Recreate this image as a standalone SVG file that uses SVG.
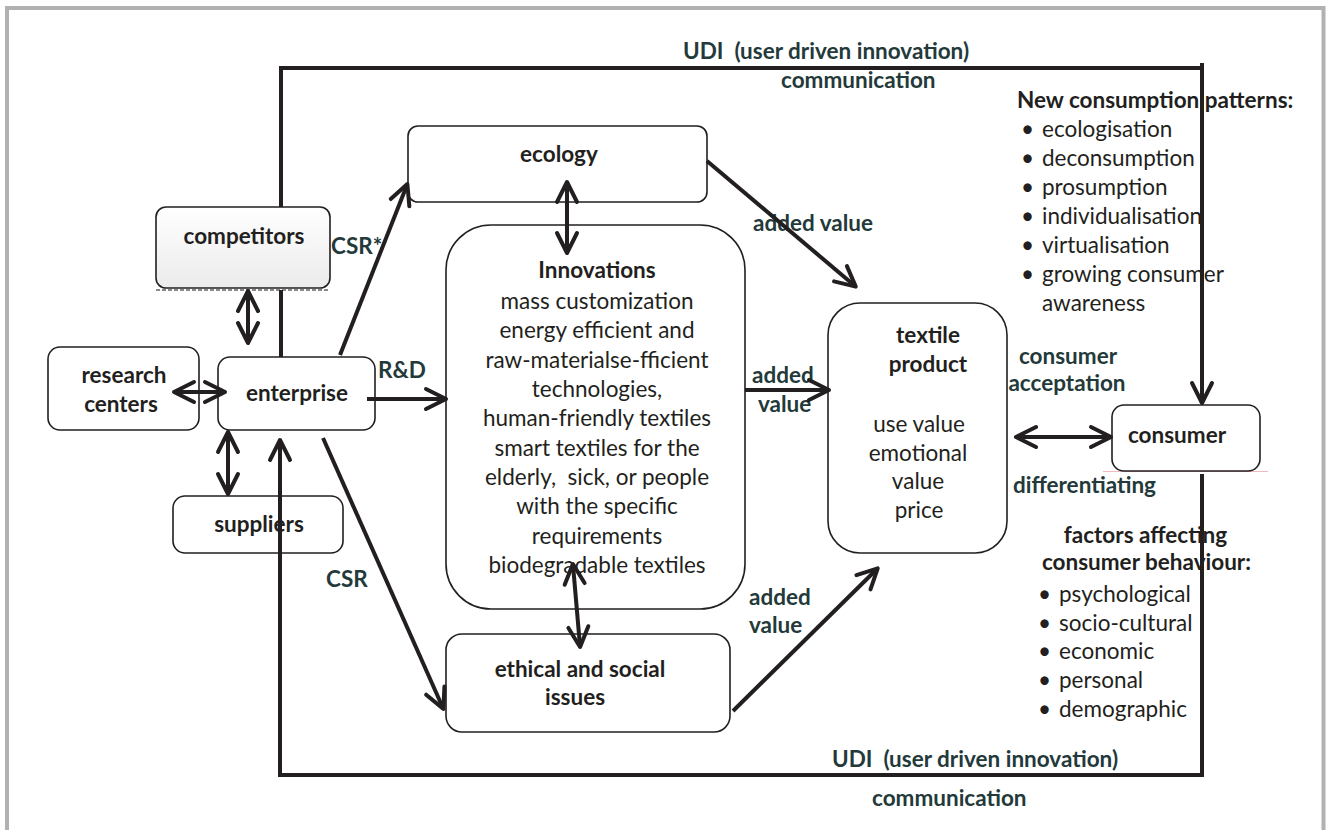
<svg xmlns="http://www.w3.org/2000/svg" width="1326" height="830" viewBox="0 0 1326 830">
<style>
.node{fill:#fff;stroke:#231f20;stroke-width:1.6}
.nt{font-family:Lato,"Liberation Sans",sans-serif;font-weight:bold;font-size:22.5px;fill:#231f20;text-anchor:middle}
.rt{font-family:Lato,"Liberation Sans",sans-serif;font-size:22.5px;fill:#231f20;text-anchor:middle}
.lt{font-family:Lato,"Liberation Sans",sans-serif;font-size:22.5px;fill:#231f20}
.lb{font-family:Lato,"Liberation Sans",sans-serif;font-weight:bold;font-size:22.5px;fill:#23393a}
.lbb{font-family:Lato,"Liberation Sans",sans-serif;font-weight:bold;font-size:22.5px;fill:#231f20}
.c{fill:none;stroke:#231f20;stroke-width:4}
.a{marker-end:url(#ah)}
.d{marker-start:url(#ah);marker-end:url(#ah)}
</style>
<defs>
<marker id="ah" viewBox="0 0 24 24" refX="21" refY="12" markerWidth="24" markerHeight="24" orient="auto-start-reverse" markerUnits="userSpaceOnUse" overflow="visible">
<path d="M2,2 L22,12 L2,22" fill="none" stroke="#231f20" stroke-width="4" stroke-linejoin="round" stroke-linecap="round"/>
</marker>
<linearGradient id="gc" x1="0" y1="0" x2="0" y2="1">
<stop offset="0" stop-color="#ffffff"/>
<stop offset="1" stop-color="#ebebeb"/>
</linearGradient>
</defs>
<rect width="1326" height="830" fill="#fff"/>
<g id="frame" fill="none" stroke="#b1b1b3" stroke-width="4">
<path d="M7,830 V8 H1323.5 V830"/>
</g>

<g id="competitors">
<rect x="156" y="207" width="174" height="81" rx="10" fill="url(#gc)" stroke="#231f20" stroke-width="1.6"/>
<line x1="156" y1="290" x2="330" y2="290" stroke="#8a8a8a" stroke-width="2" stroke-dasharray="4,2"/>
<text class="nt" x="244" y="244">competitors</text>
</g>
<g id="research-centers">
<rect class="node" x="48" y="347" width="151" height="83" rx="12"/>
<text class="nt" x="124" y="383">research</text>
<text class="nt" x="121" y="412">centers</text>
</g>
<g id="enterprise">
<rect class="node" x="218" y="357" width="157" height="73" rx="12"/>
<text class="nt" x="297" y="401">enterprise</text>
</g>
<g id="suppliers">
<rect class="node" x="173" y="496" width="170" height="57" rx="12"/>
<text class="nt" x="259" y="532">suppliers</text>
</g>
<g id="ecology">
<rect class="node" x="408" y="126" width="299" height="76" rx="10"/>
<text class="nt" x="559" y="162">ecology</text>
</g>
<g id="innovations">
<rect class="node" x="446" y="225" width="299" height="384" rx="45" stroke-width="2.2"/>
<text class="nt" x="597" y="278">Innovations</text>
<text class="rt" x="597" y="309">mass customization</text>
<text class="rt" x="597" y="338">energy efficient and</text>
<text class="rt" x="597" y="367.5">raw-materialse-fficient</text>
<text class="rt" x="597" y="397">technologies,</text>
<text class="rt" x="597" y="426">human-friendly textiles</text>
<text class="rt" x="597" y="455.5">smart textiles for the</text>
<text class="rt" x="597" y="485" xml:space="preserve">elderly,  sick, or people</text>
<text class="rt" x="597" y="514">with the specific</text>
<text class="rt" x="597" y="543.5">requirements</text>
<text class="rt" x="597" y="573">biodegradable textiles</text>
</g>
<g id="ethical-social">
<rect class="node" x="446" y="634" width="284" height="98" rx="16" stroke-width="2"/>
<text class="nt" x="580" y="677">ethical and social</text>
<text class="nt" x="575" y="705">issues</text>
</g>
<g id="textile-product">
<rect class="node" x="828" y="303" width="179" height="250" rx="32" stroke-width="2.2"/>
<text class="nt" x="928" y="343">textile</text>
<text class="nt" x="928" y="372">product</text>
<text class="rt" x="919" y="432">use value</text>
<text class="rt" x="918" y="461">emotional</text>
<text class="rt" x="918" y="489">value</text>
<text class="rt" x="919" y="518">price</text>
</g>
<g id="consumer">
<line x1="1103" y1="471.5" x2="1268" y2="471.5" stroke="#f2b8c2" stroke-width="1"/>
<rect class="node" x="1112" y="405" width="148" height="66" rx="12" stroke-width="2.4"/>
<text class="nt" x="1177" y="443">consumer</text>
</g>

<g id="consumption-patterns">
<text class="lbb" x="1017" y="108">New consumption patterns:</text>
<g class="lt">
<text x="1021" y="137">•</text><text x="1042" y="137">ecologisation</text>
<text x="1021" y="166">•</text><text x="1042" y="166">deconsumption</text>
<text x="1021" y="195">•</text><text x="1042" y="195">prosumption</text>
<text x="1021" y="224">•</text><text x="1042" y="224">individualisation</text>
<text x="1021" y="253">•</text><text x="1042" y="253">virtualisation</text>
<text x="1021" y="282">•</text><text x="1042" y="282">growing consumer</text>
<text x="1042" y="311">awareness</text>
</g>
</g>

<g id="consumer-factors">
<text class="lbb" x="1145.5" y="543" text-anchor="middle">factors affecting</text>
<text class="lbb" x="1146.5" y="570" text-anchor="middle">consumer behaviour:</text>
<g class="lt">
<text x="1038" y="602">•</text><text x="1059" y="602">psychological</text>
<text x="1038" y="631">•</text><text x="1059" y="631">socio-cultural</text>
<text x="1038" y="659">•</text><text x="1059" y="659">economic</text>
<text x="1038" y="688">•</text><text x="1059" y="688">personal</text>
<text x="1038" y="717">•</text><text x="1059" y="717">demographic</text>
</g>
</g>

<g id="labels">
<text class="lb" x="683" y="59" xml:space="preserve">UDI  (user driven innovation)</text>
<text class="lb" x="781" y="88">communication</text>
<text class="lb" x="331" y="254">CSR*</text>
<text class="lb" x="378" y="378">R&amp;D</text>
<text class="lb" x="326" y="587">CSR</text>
<text class="lb" x="753" y="231">added value</text>
<text class="lb" x="752" y="383">added</text>
<text class="lb" x="758" y="412">value</text>
<text class="lb" x="749" y="605">added</text>
<text class="lb" x="749" y="633">value</text>
<text class="lb" x="1068" y="364" text-anchor="middle">consumer</text>
<text class="lb" x="1067" y="391" text-anchor="middle">acceptation</text>
<text class="lb" x="1013" y="493">differentiating</text>
<text class="lb" x="832" y="767" xml:space="preserve">UDI  (user driven innovation)</text>
<text class="lb" x="872" y="806">communication</text>
</g>

<g id="connectors">
<path class="c" stroke-width="4.5" d="M281,207 V68 H1204"/>
<path class="c a" stroke-width="4.5" d="M1202,63 V402"/>
<path class="c" d="M281,290 V357"/>
<path class="c a" stroke-width="4.5" d="M1202,474 V775 H280 V441"/>
<path class="c d" d="M248,292 V342"/>
<path class="c d" d="M175,392 H224"/>
<path class="c d" d="M228,433 V493"/>
<path class="c a" d="M367,399 H445"/>
<path class="c a" d="M340,355 L407,185"/>
<path class="c a" d="M323,438 L443,708"/>
<path class="c d" d="M567,183 V252"/>
<path class="c d" d="M573,565 L580,646"/>
<path class="c a" d="M707,161 L855,286"/>
<path class="c a" d="M745,390 H828"/>
<path class="c a" d="M733,711 L877,569"/>
<path class="c d" d="M1017,437 H1110"/>
</g>
</svg>
